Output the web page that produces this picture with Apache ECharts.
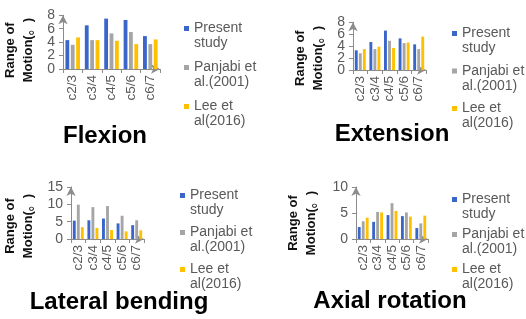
<!DOCTYPE html>
<html>
<head>
<meta charset="utf-8">
<script src="https://cdn.jsdelivr.net/npm/echarts@6/dist/echarts.min.js"></script>
<style>html,body{margin:0;padding:0;background:#fff}#c{width:526px;height:319px}</style>
</head>
<body>
<div id="c"></div>
<script>
const categories = ['c2/3', 'c3/4', 'c4/5', 'c5/6', 'c6/7'];
const seriesNames = ['Present study', 'Panjabi et al.(2001)', 'Lee et al(2016)'];
const legendLabels = ['Present\nstudy', 'Panjabi et\nal.(2001)', 'Lee et\nal(2016)'];
const panelTitles = ['Flexion', 'Extension', 'Lateral bending', 'Axial rotation'];
const flexionTicks = [0, 2, 4, 6, 8];
const extensionTicks = [0, 2, 4, 6, 8];
const lateralTicks = [0, 5, 10, 15];
const axialTicks = [0, 5, 10];

const flexionPresent = [4.3, 6.5, 7.5, 7.3, 4.9];
const flexionPanjabi = [3.6, 4.3, 5.3, 5.5, 3.7];
const flexionLee = [4.7, 4.3, 4.2, 3.7, 4.4];

const extensionPresent = [3.3, 4.7, 6.6, 5.3, 4.3];
const extensionPanjabi = [2.8, 3.5, 4.9, 4.5, 3.5];
const extensionLee = [3.5, 3.9, 3.7, 4.6, 5.6];

const lateralPresent = [5.3, 5.4, 5.9, 4.5, 4.0];
const lateralPanjabi = [9.9, 9.2, 9.5, 6.7, 5.4];
const lateralLee = [3.4, 3.2, 2.6, 2.2, 2.5];

const axialPresent = [2.3, 3.3, 4.6, 4.4, 2.1];
const axialPanjabi = [3.4, 5.2, 6.9, 5.1, 3.0];
const axialLee = [4.1, 5.1, 5.4, 4.3, 4.5];

const panelData = [
  [flexionPresent, flexionPanjabi, flexionLee],
  [extensionPresent, extensionPanjabi, extensionLee],
  [lateralPresent, lateralPanjabi, lateralLee],
  [axialPresent, axialPanjabi, axialLee]
];
const panelTicks = [flexionTicks, extensionTicks, lateralTicks, axialTicks];

const colors = ['#3a66c9', '#a5a5a5', '#ffc000'];
const FONT = '"Liberation Sans", Arial, "Noto Sans CJK SC", sans-serif';
const AXIS_COLOR = '#8c8c8c';
const LABEL_COLOR = '#595959';

const grids = [
  {left: 60, top: 5, width: 100, height: 64},
  {left: 353, top: 13, width: 73, height: 57},
  {left: 69, top: 187, width: 75, height: 52},
  {left: 356, top: 187, width: 72, height: 52}
];
const nameGaps = [26, 26, 34, 36];
const namePads = [[0, 16, 0, 0], [0, 24, 0, 0], [0, 26, 0, 0], [0, 20, 0, 0]];
const legendPos = [
  {left: 184, top: 21, itemGap: 9},
  {left: 452, top: 26, itemGap: 7.5},
  {left: 180, top: 188, itemGap: 7},
  {left: 452, top: 192, itemGap: 5}
];
const titlePos = [
  {x: 105, y: 124},
  {x: 392, y: 122},
  {x: 119, y: 290},
  {x: 390, y: 289}
];

const labelStyle = {color: LABEL_COLOR, fontSize: 14, margin: 8, fontFamily: FONT,
  showMinLabel: true, showMaxLabel: true, hideOverlap: false};

const xAxes = grids.map((g, i) => ({
  type: 'category', gridIndex: i, data: categories,
  axisLine: {lineStyle: {color: AXIS_COLOR, width: 1}, symbol: ['none', 'arrow'], symbolSize: [7, 9]},
  axisTick: {show: true, length: 4, lineStyle: {color: AXIS_COLOR}},
  axisLabel: {rotate: 90, interval: 0, margin: 6, fontSize: 13.5, color: LABEL_COLOR, fontFamily: FONT}
}));

// main value axes: line, ticks, name and every other tick label
const yAxes = grids.map((g, i) => {
  const ticks = panelTicks[i];
  return {
    type: 'value', gridIndex: i, min: ticks[0], max: ticks[ticks.length - 1], interval: ticks[1] - ticks[0],
    name: 'Range of\nMotion(\u3002)', nameLocation: 'middle', nameRotate: 90, nameGap: nameGaps[i],
    nameTextStyle: {fontSize: 13, fontWeight: 'bold', color: '#111', lineHeight: 18, fontFamily: FONT, padding: namePads[i]},
    splitLine: {show: false},
    axisLine: {show: true, lineStyle: {color: AXIS_COLOR, width: 1}, symbol: ['none', 'arrow'], symbolSize: [7, 9]},
    axisTick: {show: true, length: 4, lineStyle: {color: AXIS_COLOR}, customValues: ticks},
    axisLabel: Object.assign({customValues: ticks.filter((t, k) => k % 2 === 0)}, labelStyle)
  };
});
// companion axes carrying the remaining tick labels (keeps them from being hidden as overlapping)
grids.forEach((g, i) => {
  const ticks = panelTicks[i];
  yAxes.push({
    type: 'value', gridIndex: i, position: 'left', min: ticks[0], max: ticks[ticks.length - 1],
    interval: ticks[1] - ticks[0],
    splitLine: {show: false}, axisLine: {show: false}, axisTick: {show: false},
    axisLabel: Object.assign({customValues: ticks.filter((t, k) => k % 2 === 1)}, labelStyle)
  });
});

const series = [];
panelData.forEach((arrs, p) => {
  arrs.forEach((vals, s) => {
    series.push({
      type: 'bar', name: seriesNames[s], xAxisIndex: p, yAxisIndex: p,
      data: vals, itemStyle: {color: colors[s]},
      barCategoryGap: '25%', barGap: '40%'
    });
  });
});

// square marker aligned with the first text line of each two-line legend entry
const legendIcon = 'path://M0,0h0.05v0.05h-0.05z M0,5h5v5h-5z M0,29.95h0.05v0.05h-0.05z';

const legends = legendPos.map(lp => ({
  orient: 'vertical', left: lp.left, top: lp.top, itemGap: lp.itemGap,
  padding: 0, icon: legendIcon, itemWidth: 5, itemHeight: 30,
  data: seriesNames,
  formatter: n => legendLabels[seriesNames.indexOf(n)],
  textStyle: {fontSize: 14, color: LABEL_COLOR, lineHeight: 15, fontFamily: FONT}
}));

const titles = titlePos.map((tp, i) => ({
  text: panelTitles[i], left: tp.x, top: tp.y, textAlign: 'center', padding: 0,
  textStyle: {fontSize: 24, fontWeight: 'bold', color: '#000', fontFamily: FONT}
}));

const chart = echarts.init(document.getElementById('c'), null, {renderer: 'canvas'});
chart.setOption({
  animation: false,
  backgroundColor: '#fff',
  title: titles,
  legend: legends,
  grid: grids,
  xAxis: xAxes,
  yAxis: yAxes,
  series: series
});
</script>
</body>
</html>
